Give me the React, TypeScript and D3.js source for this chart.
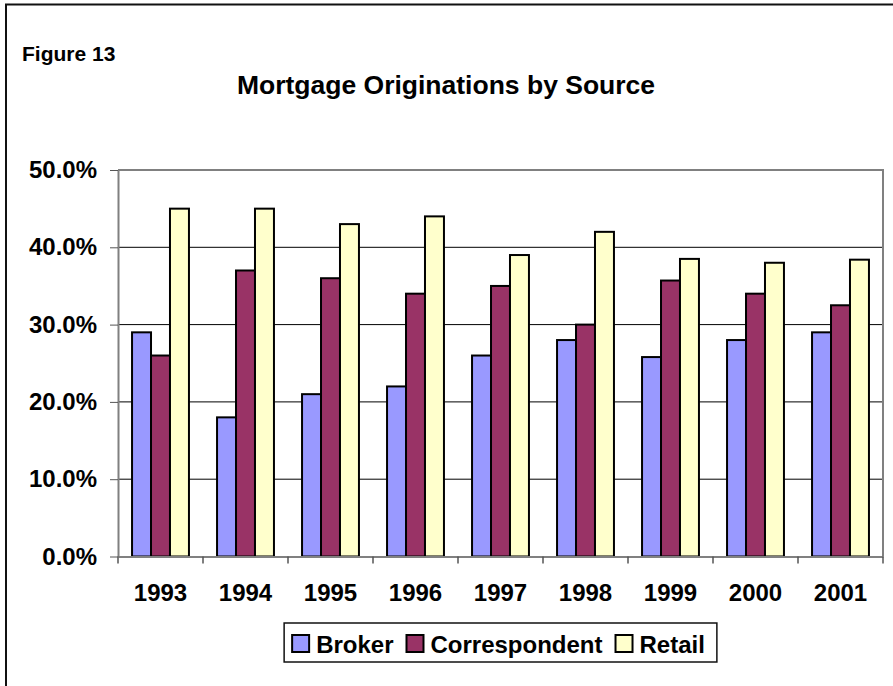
import * as d3 from "d3";
import { useEffect, useRef } from "react";

const years = ["1993", "1994", "1995", "1996", "1997", "1998", "1999", "2000", "2001"];
const seriesNames = ["Broker", "Correspondent", "Retail"];
const broker = [0.29, 0.18, 0.21, 0.22, 0.26, 0.28, 0.258, 0.28, 0.29];
const correspondent = [0.26, 0.37, 0.36, 0.34, 0.35, 0.3, 0.357, 0.34, 0.325];
const retail = [0.45, 0.45, 0.43, 0.44, 0.39, 0.42, 0.385, 0.38, 0.384];
const yTicks = [0, 0.1, 0.2, 0.3, 0.4, 0.5];
const colors = ["#9999FF", "#993366", "#FFFFCC"];

const FONT = "'Liberation Sans', Arial, Helvetica, sans-serif";

export default function App() {
  const ref = useRef<SVGSVGElement | null>(null);

  useEffect(() => {
    if (!ref.current) return;
    const svg = d3.select(ref.current);
    svg.selectAll("*").remove();

    const w = 893;
    const h = 686;
    const left = 118;
    const right = 883;
    const top = 170;
    const bottom = 556.5;

    svg.append("rect").attr("width", w).attr("height", h).attr("fill", "#fff");
    // outer frame (right and bottom edges run off the picture)
    svg.append("rect")
      .attr("x", 6).attr("y", 4.5)
      .attr("width", 1000).attr("height", 1000)
      .attr("fill", "none").attr("stroke", "#111").attr("stroke-width", 2);

    svg.append("text")
      .attr("x", 22).attr("y", 61)
      .attr("font-family", FONT).attr("font-weight", "bold").attr("font-size", 21)
      .text("Figure 13");

    svg.append("text")
      .attr("x", 446).attr("y", 94)
      .attr("text-anchor", "middle")
      .attr("font-family", FONT).attr("font-weight", "bold").attr("font-size", 26.5)
      .text("Mortgage Originations by Source");

    const x0 = d3.scaleBand().domain(years).range([left, right]).padding(0);
    const x1 = d3.scaleBand().domain(seriesNames).range([0, x0.bandwidth()]).paddingInner(0).paddingOuter(0.74);
    const y = d3.scaleLinear().domain([0, 0.5]).range([bottom, top]);

    // gridlines
    svg.append("g")
      .selectAll("line")
      .data(yTicks.filter((t) => t > 0 && t < 0.5))
      .enter()
      .append("line")
      .attr("x1", left).attr("x2", right)
      .attr("y1", (d) => y(d)).attr("y2", (d) => y(d))
      .attr("stroke", "#000").attr("stroke-width", 1);

    // plot frame top/right
    svg.append("path")
      .attr("d", `M${left},${top}H${right}V${bottom}`)
      .attr("fill", "none").attr("stroke", "#808080").attr("stroke-width", 2);

    const values = [broker, correspondent, retail];
    const rows = years.flatMap((yr, i) =>
      seriesNames.map((s, j) => ({ year: yr, series: s, value: values[j][i], color: colors[j] }))
    );

    svg.append("g")
      .selectAll("rect")
      .data(rows)
      .enter()
      .append("rect")
      .attr("x", (d) => (x0(d.year) ?? 0) + (x1(d.series) ?? 0))
      .attr("y", (d) => y(d.value))
      .attr("width", x1.bandwidth())
      .attr("height", (d) => bottom - y(d.value))
      .attr("fill", (d) => d.color)
      .attr("stroke", "#000")
      .attr("stroke-width", 2);

    // y axis
    const ya = svg.append("g")
      .attr("transform", `translate(${left},0)`)
      .call(d3.axisLeft(y).tickValues(yTicks).tickFormat(d3.format(".1%")).tickSize(8).tickPadding(13).tickSizeOuter(0));
    ya.select(".domain").attr("stroke", "#808080").attr("stroke-width", 2);
    ya.selectAll(".tick line").attr("stroke", "#555").attr("stroke-width", 1);
    ya.selectAll("text")
      .attr("fill", "#000")
      .attr("font-family", FONT)
      .attr("font-weight", "bold")
      .attr("font-size", 24);

    // x axis
    const xa = svg.append("g")
      .attr("transform", `translate(0,${bottom})`)
      .call(d3.axisBottom(x0).tickSize(0).tickPadding(27.5).tickSizeOuter(0));
    xa.select(".domain").attr("stroke", "#808080").attr("stroke-width", 2);
    xa.selectAll("text")
      .attr("fill", "#000")
      .attr("font-family", FONT)
      .attr("font-weight", "bold")
      .attr("font-size", 24);

    const bounds = [...years.map((d) => x0(d) ?? 0), right];
    svg.append("g")
      .selectAll("line")
      .data(bounds)
      .enter()
      .append("line")
      .attr("x1", (d) => d).attr("x2", (d) => d)
      .attr("y1", bottom).attr("y2", bottom + 7)
      .attr("stroke", "#555").attr("stroke-width", 1.5);

    // legend
    const lg = svg.append("g");
    const box = lg.append("rect")
      .attr("fill", "#fff").attr("stroke", "#111").attr("stroke-width", 1.5);
    const inner = lg.append("g");
    let cx = 0;
    seriesNames.forEach((s, j) => {
      inner.append("rect")
        .attr("x", cx).attr("y", 635)
        .attr("width", 17).attr("height", 17)
        .attr("fill", colors[j]).attr("stroke", "#000").attr("stroke-width", 2);
      const t = inner.append("text")
        .attr("x", cx + 24).attr("y", 653)
        .attr("font-family", FONT).attr("font-weight", "bold").attr("font-size", 24)
        .text(s);
      const tw = (t.node() as SVGTextElement).getComputedTextLength();
      cx += 24 + tw + 13;
    });
    const contentW = cx - 13;
    const boxW = contentW + 20;
    const boxX = (left + right) / 2 - boxW / 2;
    box.attr("x", boxX).attr("y", 623).attr("width", boxW).attr("height", 39);
    inner.attr("transform", `translate(${boxX + 8},0)`);
  }, []);

  return (
    <svg
      ref={ref}
      width={893}
      height={686}
      viewBox="0 0 893 686"
      style={{ position: "absolute", left: 0, top: 0, display: "block" }}
    />
  );
}
